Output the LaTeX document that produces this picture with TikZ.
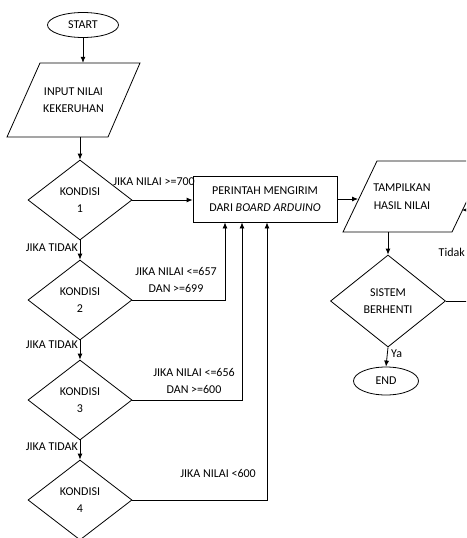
\documentclass[tikz,border=0pt]{standalone}
\usepackage{fontspec}
\setmainfont{Carlito}
\usetikzlibrary{shapes.geometric,arrows.meta}
\begin{document}
\begin{tikzpicture}[x=1pt,y=-1pt,
  every node/.style={font=\fontsize{12}{17.5}\selectfont, text=black, align=center},
  ln/.style={line width=0.8pt, draw=black},
  arr/.style={ln, -{Latex[length=6pt,width=5pt]}},
  term/.style={ellipse, draw=black, line width=0.8pt, inner sep=0pt},
  dec/.style={diamond, draw=black, line width=0.8pt, inner sep=0pt, aspect=1.3, minimum width=104pt, minimum height=80pt},
  iotext/.style={rectangle, inner sep=0pt},
  proc/.style={rectangle, draw=black, line width=0.8pt, minimum width=144pt, minimum height=46pt, inner sep=0pt},
  lbl/.style={inner sep=0pt}
]
\useasboundingbox (0,0) rectangle (466,538);
\fill[white] (0,0) rectangle (466,538);
\clip (0,0) rectangle (466,538);

% main nodes
\node[term, minimum width=71pt, minimum height=25pt] (start) at (83,25) {START};
\node[iotext, minimum width=100pt, minimum height=74pt] (inp) at (73.5,100) {INPUT NILAI\\KEKERUHAN};
\draw[ln] (40,63) -- (140,63) -- (108,137) -- (7,137) -- cycle;
\node[dec] (d1) at (80,200) {KONDISI\\1};
\node[dec] (d2) at (80,300) {KONDISI\\2};
\node[dec] (d3) at (80,400) {KONDISI\\3};
\node[dec] (d4) at (80,500) {KONDISI\\4};
\node[proc] (box) at (265,199) {PERINTAH MENGIRIM\\DARI \textit{BOARD ARDUINO}};
\node[iotext, minimum width=90pt, minimum height=71pt] (tampil) at (402,196.5) {TAMPILKAN\\HASIL NILAI};
\draw[ln] (377,161) -- (486,161) -- (452,232) -- (343,232) -- cycle;
\node[dec, minimum width=115pt, minimum height=92pt] (sis) at (388,301) {SISTEM\\BERHENTI};
\node[term, minimum width=65pt, minimum height=28pt] (end) at (386,381) {END};

% labels
\node[lbl, anchor=east] (l700) at (195,182) {JIKA NILAI >=700};
\node[lbl] (l657) at (176,280) {JIKA NILAI <=657\\DAN >=699};
\node[lbl] (l656) at (194,381) {JIKA NILAI <=656\\DAN >=600};
\node[lbl] (l600) at (218,473) {JIKA NILAI <600};
\node[lbl, anchor=east] (t1) at (78,248) {JIKA TIDAK};
\node[lbl, anchor=east] (t2) at (78,345) {JIKA TIDAK};
\node[lbl, anchor=east] (t3) at (78,447) {JIKA TIDAK};
\node[lbl, anchor=east] (tidak) at (465,252) {Tidak};
\node[lbl, anchor=west] (ya) at (391,354) {Ya};

% connectors
\coordinate (tampilin) at (358,201);
\coordinate (loopin) at (462,210);
\draw[arr] (start.south) -- (start.south |- inp.north);
\draw[arr] (inp.south -| d1.north) -- (d1.north);
\draw[arr] (d1.south) -- (d2.north);
\draw[arr] (d2.south) -- (d3.north);
\draw[arr] (d3.south) -- (d4.north);
\draw[arr] (d1.east) -- (d1.east -| box.west);
\draw[arr] (d2.east) -| ([xshift=-40pt]box.south);
\draw[arr] (d3.east) -| ([xshift=-23pt]box.south);
\draw[arr] (d4.east) -| ([xshift=2pt]box.south);
\draw[arr] (box.east) -- (box.east -| tampilin);
\draw[arr] (sis.north |- tampil.south) -- (sis.north);
\draw[arr] (sis.south) -- (end.north);
\draw[arr] (sis.east) -- ++(40,0) |- (loopin);
\end{tikzpicture}
\end{document}
